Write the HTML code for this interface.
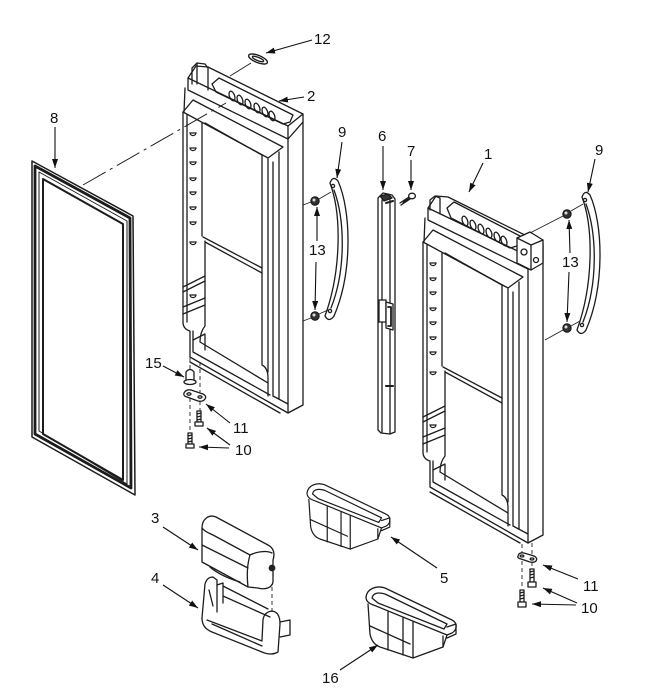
<!DOCTYPE html>
<html><head><meta charset="utf-8"><style>
html,body{margin:0;padding:0;background:#fff;}
svg{display:block;}
text{font-family:"Liberation Sans",Arial,sans-serif;font-size:15px;fill:#111;}
.d path,.d line,.d ellipse,.d rect,.d circle{fill:none;stroke:#1c1c1c;stroke-width:1.3;stroke-linejoin:round;stroke-linecap:round;}
.ld{stroke:#111;stroke-width:1.1;fill:none;}
</style></head><body>
<svg width="658" height="700" viewBox="0 0 658 700" xmlns="http://www.w3.org/2000/svg">
<defs>
<marker id="a" markerWidth="9" markerHeight="6" refX="9" refY="3" orient="auto" markerUnits="userSpaceOnUse"><path d="M0,0 L9,3 L0,6 Z" fill="#111"/></marker>
</defs>
<rect width="658" height="700" fill="#fff"/>

<!-- ===== Gasket 8 ===== -->
<g class="d">
<path d="M32,161 L133,216 L135,495 L32,437 Z" style="stroke-width:1.5"/>
<path d="M35,166 L130,218 L131,488 L35,434 Z" style="stroke-width:2.8"/>
<path d="M39,172 L127,221 L127,484 L39,431 Z" style="stroke-width:1"/>
<path d="M43,179 L123,224 L123,480 L43,434 Z" style="stroke-width:2"/>
</g>
<line x1="83" y1="185" x2="226" y2="103" stroke="#222" stroke-width="1" stroke-dasharray="26,5,3,5"/>

<!-- ===== Left door (2) ===== -->
<g class="d">
<path d="M303,114 L303,405 L288,413 L288,139"/>
<path d="M273,162 L273,396 L288,404"/>
<path d="M279,152 L279,399"/>
<path d="M188,78 L196,66 L208,67 L303,114 L288,126 Z" style="fill:#fff"/>
<path d="M188,78 L188,90 L288,139 L288,126"/>
<path d="M288,139 L303,122"/>
<path d="M212,84 L219,78 L293,115 L290,122 L283,124 L216,92 Z"/>
<ellipse cx="232" cy="96" rx="2.6" ry="5" transform="rotate(-20 232 96)"/>
<ellipse cx="240" cy="100" rx="2.6" ry="5" transform="rotate(-20 240 100)"/>
<ellipse cx="248" cy="104" rx="2.6" ry="5" transform="rotate(-20 248 104)"/>
<ellipse cx="257" cy="108" rx="2.6" ry="5" transform="rotate(-20 257 108)"/>
<ellipse cx="265" cy="112" rx="2.6" ry="5" transform="rotate(-20 265 112)"/>
<ellipse cx="272" cy="116" rx="2.6" ry="5" transform="rotate(-20 272 116)"/>
<path d="M185,88 L184,112"/>
<path d="M183,112 L193,100 L283,147 L268,158 Z"/>
<path d="M183,112 L183,322 Q183,329 190,331 L190,357 L288,413"/>
<path d="M187,115 L187,322"/>
<path d="M190,362 L280,413"/>
<path d="M193,331 L193,352 L270,395"/>
<path d="M205,123 L262,155 L262,365 Q268,368 268,378 L268,396"/>
<path d="M268,159 L268,372"/>
<path d="M202,123 L202,236"/>
<path d="M205,241 L205,326 Q200,332 200,342 L268,383"/>
<path d="M203,237 L262,268"/>
<path d="M205,242 L262,273"/>
<path d="M183,287 L205,276"/>
<path d="M183,292 L205,281"/>
<path d="M183,307 L205,298"/>
<path d="M183,314 L205,305"/>
<path d="M193,340 L205,334 L205,350"/>
<path d="M192,84 L192,68 L197,63 L205,64 L208,68 L208,90"/>
<path d="M197,63 L197,84"/>
</g>
<g fill="#fff" stroke="#1c1c1c" stroke-width="1.2">
<path d="M190,133 a3,2.6 0 1,0 6,0 Z"/><path d="M190,148 a3,2.6 0 1,0 6,0 Z"/><path d="M190,162 a3,2.6 0 1,0 6,0 Z"/>
<path d="M190,178 a3,2.6 0 1,0 6,0 Z"/><path d="M190,192 a3,2.6 0 1,0 6,0 Z"/><path d="M190,207 a3,2.6 0 1,0 6,0 Z"/>
<path d="M190,222 a3,2.6 0 1,0 6,0 Z"/><path d="M190,242 a3,2.6 0 1,0 6,0 Z"/><path d="M190,295 a3,2.6 0 1,0 6,0 Z"/>
</g>

<!-- ===== Right door (1) ===== -->
<g class="d" transform="translate(240,130)">
<path d="M303,114 L303,405 L288,413 L288,139"/>
<path d="M273,162 L273,396 L288,404"/>
<path d="M279,152 L279,399"/>
<path d="M188,78 L196,66 L208,67 L303,114 L288,126 Z" style="fill:#fff"/>
<path d="M188,78 L188,90 L288,139 L288,126"/>
<path d="M288,139 L303,122"/>
<path d="M207,78 L214,72 L280,106 L277,116 L270,118 L211,88 Z"/>
<ellipse cx="225" cy="91" rx="2.6" ry="5" transform="rotate(-20 225 91)"/>
<ellipse cx="233" cy="95" rx="2.6" ry="5" transform="rotate(-20 233 95)"/>
<ellipse cx="241" cy="99" rx="2.6" ry="5" transform="rotate(-20 241 99)"/>
<ellipse cx="249" cy="103" rx="2.6" ry="5" transform="rotate(-20 249 103)"/>
<ellipse cx="257" cy="107" rx="2.6" ry="5" transform="rotate(-20 257 107)"/>
<ellipse cx="264" cy="111" rx="2.6" ry="5" transform="rotate(-20 264 111)"/>
<path d="M185,88 L184,112"/>
<path d="M183,112 L193,100 L283,147 L268,158 Z"/>
<path d="M183,112 L183,322 Q183,329 190,331 L190,357 L288,413"/>
<path d="M187,115 L187,322"/>
<path d="M190,362 L280,413"/>
<path d="M193,331 L193,352 L270,395"/>
<path d="M205,123 L262,155 L262,365 Q268,368 268,378 L268,396"/>
<path d="M268,159 L268,372"/>
<path d="M202,123 L202,236"/>
<path d="M205,241 L205,326 Q200,332 200,342 L268,383"/>
<path d="M203,237 L262,268"/>
<path d="M205,242 L262,273"/>
<path d="M183,287 L205,276"/>
<path d="M183,292 L205,281"/>
<path d="M183,307 L205,298"/>
<path d="M183,314 L205,305"/>
<path d="M193,340 L205,334 L205,350"/>
<path d="M190,80 L190,70 L195,66 L200,68 L200,84"/>
<path d="M277,108 L290,102 L303,110 L303,133 L291,140 L277,133 Z" style="fill:#fff"/>
<path d="M277,108 L291,115 L303,110 M291,115 L291,140"/>
<circle cx="284" cy="122" r="3"/><circle cx="296" cy="130" r="2.5"/>
</g>
<g fill="#fff" stroke="#1c1c1c" stroke-width="1.2">
<path d="M430,263 a3,2.6 0 1,0 6,0 Z"/><path d="M430,278 a3,2.6 0 1,0 6,0 Z"/><path d="M430,292 a3,2.6 0 1,0 6,0 Z"/>
<path d="M430,308 a3,2.6 0 1,0 6,0 Z"/><path d="M430,322 a3,2.6 0 1,0 6,0 Z"/><path d="M430,337 a3,2.6 0 1,0 6,0 Z"/>
<path d="M430,352 a3,2.6 0 1,0 6,0 Z"/><path d="M430,372 a3,2.6 0 1,0 6,0 Z"/><path d="M430,425 a3,2.6 0 1,0 6,0 Z"/>
</g>

<!-- line to part 12 -->
<line x1="230" y1="76" x2="251" y2="63" stroke="#222" stroke-width="1"/>
<!-- Part 12 -->
<g class="d"><ellipse cx="258" cy="59" rx="10" ry="3.6" transform="rotate(22 258 59)" style="stroke-width:1.4"/><ellipse cx="258" cy="59" rx="6" ry="1.6" transform="rotate(22 258 59)"/></g>

<!-- ===== Handles 9 & grommets 13 ===== -->
<g class="d">
<path d="M330,183 Q333,175 338,181 C351,210 353,272 334,316 Q329,323 325,316 C341,272 342,215 330,183 Z" style="fill:#fff;stroke-width:1.3"/>
<path d="M334,190 C345,220 346,270 331,308"/>
<circle cx="333" cy="186" r="1.6"/><circle cx="330" cy="311" r="1.6"/>
<path transform="translate(252,14)" d="M330,183 Q333,175 338,181 C351,210 353,272 334,316 Q329,323 325,316 C341,272 342,215 330,183 Z" style="fill:#fff;stroke-width:1.3"/>
<path transform="translate(252,14)" d="M334,190 C345,220 346,270 331,308"/>
<circle cx="585" cy="200" r="1.6"/><circle cx="582" cy="325" r="1.6"/>
</g>
<g stroke="#222" stroke-width="0.9">
<line x1="303" y1="205" x2="311" y2="202"/><line x1="319" y1="199" x2="331" y2="192"/>
<line x1="303" y1="321" x2="311" y2="318"/><line x1="319" y1="314" x2="328" y2="310"/>
<line x1="530" y1="233" x2="563" y2="216"/><line x1="571" y1="211" x2="583" y2="204"/>
<line x1="545" y1="340" x2="563" y2="330"/><line x1="571" y1="326" x2="580" y2="321"/>
</g>
<g fill="#333" stroke="#111" stroke-width="1">
<circle cx="315" cy="201" r="4.2"/><circle cx="315" cy="316" r="4.2"/>
<circle cx="567" cy="214" r="4.2"/><circle cx="567" cy="328" r="4.2"/>
</g>
<g fill="#ddd"><circle cx="314" cy="200" r="1.5"/><circle cx="314" cy="315" r="1.5"/><circle cx="566" cy="213" r="1.5"/><circle cx="566" cy="327" r="1.5"/></g>

<!-- ===== Part 6 strip & 7 screw ===== -->
<g class="d">
<path d="M378,198 L383,193 L392,195 L395,199 L395,432 L390,434 L381,433 L378,430 Z" style="fill:#fff;stroke-width:1.3"/>
<path d="M382,200 L382,432"/><path d="M390,200 L390,434"/>
<path d="M380,196 L388,194 L392,198 L384,201 Z" style="fill:#333"/>
<rect x="379" y="300" width="7" height="22" style="fill:#fff"/>
<path d="M386,302 L393,304 L393,330 L386,328 Z" style="fill:#fff"/>
<path d="M388,307 L391,307 L391,326 L388,326" style="stroke-width:1.8"/>
<path d="M386,386 L393,386" style="stroke-width:2"/>
<path d="M386,203 L393,201" style="stroke-width:2"/>
<path d="M400,203 L409,197"/><path d="M401,205 L410,199"/>
<ellipse cx="412" cy="196" rx="3.4" ry="2.8" style="fill:#fff"/>
<path d="M403,203 L405,200 M405,202 L407,199 M407,201 L409,198"/>
</g>

<!-- ===== Lower hinge parts ===== -->
<g stroke="#222" stroke-width="0.9" stroke-dasharray="4,3">
<line x1="190" y1="358" x2="190" y2="369"/><line x1="190" y1="398" x2="190" y2="432"/>
<line x1="200" y1="362" x2="200" y2="392"/><line x1="200" y1="401" x2="200" y2="411"/>
<line x1="522" y1="544" x2="522" y2="554"/><line x1="522" y1="561" x2="522" y2="589"/>
<line x1="532" y1="543" x2="532" y2="554"/><line x1="532" y1="562" x2="532" y2="568"/>
<line x1="272" y1="573" x2="272" y2="613"/>
</g>
<g class="d">
<path d="M186,380 L186,372 Q190,367 194,372 L194,380" style="fill:#fff"/>
<ellipse cx="190" cy="382" rx="6" ry="2.5" style="fill:#fff"/>
<path d="M184,393 Q186,389 191,390 L203,394 Q207,396 205,399 Q203,402 198,401 L187,397 Q183,396 184,393 Z" style="fill:#fff;stroke-width:1.3"/>
<ellipse cx="189" cy="394" rx="2" ry="1.2"/><ellipse cx="200" cy="397" rx="2" ry="1.2"/>
<path d="M197,411 L201,411 L201,422 L197,422 Z M197,414 L201,413 M197,417 L201,416 M197,420 L201,419"/>
<path d="M195,422 L203,422 L203,426 L195,426 Z" style="fill:#fff"/>
<path d="M188,433 L192,433 L192,444 L188,444 Z M188,436 L192,435 M188,439 L192,438 M188,442 L192,441"/>
<path d="M186,444 L194,444 L194,448 L186,448 Z" style="fill:#fff"/>
<path d="M518,556 Q519,552 524,553 L534,556 Q538,558 536,561 Q534,563 530,562 L521,559 Q517,558 518,556 Z" style="fill:#fff;stroke-width:1.3"/>
<ellipse cx="522" cy="556" rx="1.8" ry="1"/><ellipse cx="532" cy="559" rx="1.8" ry="1"/>
<path d="M530,569 L534,569 L534,582 L530,582 Z M530,572 L534,571 M530,575 L534,574 M530,578 L534,577"/>
<path d="M528,582 L536,582 L536,587 L528,587 Z" style="fill:#fff"/>
<path d="M520,590 L524,590 L524,602 L520,602 Z M520,593 L524,592 M520,596 L524,595 M520,599 L524,598"/>
<path d="M518,602 L526,602 L526,607 L518,607 Z" style="fill:#fff"/>
</g>

<!-- ===== Part 3 ===== -->
<g class="d">
<path d="M202,528 C202,519 209,514 216,517 L268,545 C274,548 275,554 273,560 L273,582 C272,588 265,590 258,588 L248,587 L202,562 Z" style="fill:#fff;stroke-width:1.3"/>
<path d="M202,528 C205,532 209,533 213,535 L250,555"/>
<path d="M250,555 C256,552 266,550 272,553"/>
<path d="M250,555 C247,565 247,578 248,587"/>
<path d="M202,545 L248,568"/>
<path d="M210,567 C218,574 230,579 240,582"/>
</g>
<circle cx="272" cy="568" r="3.4" fill="#222"/>

<!-- ===== Part 4 ===== -->
<g class="d">
<path d="M202,618 L205,584 Q207,577 213,577 L217,580 L217,612" style="fill:#fff"/>
<path d="M217,585 L223,583 L223,603 M223,586 L268,609 M223,596 L270,617"/>
<path d="M202,618 Q202,628 212,632 L262,652 Q271,656 278,652 L280,624 Q280,612 272,611 Q264,612 263,620 L262,640"/>
<path d="M207,620 L262,641 M212,624 L262,646"/>
<path d="M280,622 L290,620 L290,635 L280,637"/>
<path d="M209,590 L213,606"/>
</g>

<!-- ===== Bins 16 & 5 ===== -->
<g class="d">
<path d="M366,597 C367,589 376,585 385,588 L452,620 C458,623 457,630 452,633 L447,635 L376,606 C370,604 366,602 366,597 Z" style="fill:#fff;stroke-width:1.3"/>
<path d="M372,598 C373,593 378,592 385,594 L447,624 L444,629 L378,603 Z"/>
<path d="M368,604 L370,634 Q372,644 380,647 L413,658 L443,647 L447,635"/>
<path d="M388,612 L388,650 M403,618 L403,655 M413,622 L413,658"/>
<path d="M443,636 L443,647"/>
<path d="M447,627 L456,624 L456,634 L447,638"/>
<path d="M370,626 L410,644"/>
</g>
<g class="d" transform="translate(307,493) scale(0.92) translate(-366,-597)">
<path d="M366,597 C367,589 376,585 385,588 L452,620 C458,623 457,630 452,633 L447,635 L376,606 C370,604 366,602 366,597 Z" style="fill:#fff;stroke-width:1.3"/>
<path d="M372,598 C373,593 378,592 385,594 L447,624 L444,629 L378,603 Z"/>
<path d="M368,604 L370,634 Q372,644 380,647 L413,658 L443,647 L447,635"/>
<path d="M388,612 L388,650 M403,618 L403,655 M413,622 L413,658"/>
<path d="M443,636 L443,647"/>
<path d="M447,627 L456,624 L456,634 L447,638"/>
<path d="M370,626 L410,644"/>
</g>

<!-- ===== Leader lines ===== -->
<g class="ld" marker-end="url(#a)">
<line x1="312" y1="40" x2="266" y2="53"/>
<line x1="304" y1="97" x2="279" y2="101"/>
<line x1="55" y1="127" x2="55" y2="168"/>
<line x1="342" y1="142" x2="337" y2="178"/>
<line x1="317" y1="241" x2="317" y2="207"/>
<line x1="316" y1="262" x2="315" y2="310"/>
<line x1="383" y1="146" x2="383" y2="190"/>
<line x1="411" y1="160" x2="411" y2="190"/>
<line x1="483" y1="163" x2="469" y2="192"/>
<line x1="595" y1="159" x2="588" y2="192"/>
<line x1="570" y1="253" x2="569" y2="220"/>
<line x1="569" y1="272" x2="567" y2="322"/>
<line x1="163" y1="366" x2="184" y2="377"/>
<line x1="230" y1="423" x2="206" y2="404"/>
<line x1="230" y1="445" x2="207" y2="428"/>
<line x1="229" y1="448" x2="199" y2="447"/>
<line x1="578" y1="579" x2="543" y2="565"/>
<line x1="577" y1="603" x2="543" y2="588"/>
<line x1="576" y1="605" x2="532" y2="604"/>
<line x1="437" y1="568" x2="391" y2="537"/>
<line x1="340" y1="670" x2="378" y2="645"/>
<line x1="163" y1="527" x2="198" y2="550"/>
<line x1="163" y1="585" x2="198" y2="608"/>
</g>

<!-- ===== Labels ===== -->
<text x="314" y="44">12</text>
<text x="307" y="101">2</text>
<text x="50" y="123">8</text>
<text x="338" y="137">9</text>
<text x="378" y="141">6</text>
<text x="407" y="156">7</text>
<text x="484" y="159">1</text>
<text x="595" y="155">9</text>
<text x="309" y="255">13</text>
<text x="562" y="267">13</text>
<text x="145" y="368">15</text>
<text x="233" y="433">11</text>
<text x="235" y="455">10</text>
<text x="583" y="591">11</text>
<text x="581" y="613">10</text>
<text x="440" y="583">5</text>
<text x="322" y="683">16</text>
<text x="151" y="523">3</text>
<text x="151" y="583">4</text>
</svg>
</body></html>
